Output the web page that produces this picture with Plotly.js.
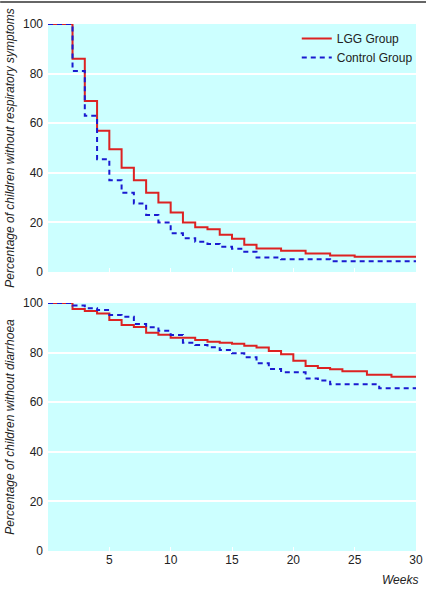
<!DOCTYPE html>
<html>
<head>
<meta charset="utf-8">
<script src="https://cdn.plot.ly/plotly-3.0.1.min.js"></script>
<style>html,body{margin:0;padding:0;background:#fff;}#chart{width:426px;height:592px;}</style>
</head>
<body>
<div id="chart"></div>
<script>
// Respiratory symptoms (top panel)
var respWeeksLGG = [0, 2, 3, 4, 5, 6, 7, 8, 9, 10, 11, 12, 13, 14, 15, 16, 17, 19, 21, 23, 25, 30];
var respLGG      = [100, 86, 69, 57, 49.5, 42, 37, 32, 28, 24, 20, 18, 17.2, 15, 13.4, 11, 9.5, 8.6, 7.5, 6.7, 6.2, 6.2];
var respWeeksCtl = [0, 2, 3, 4, 5, 6, 7, 8, 9, 10, 11, 12, 13, 14, 15, 16, 17, 19, 23, 30];
var respCtl      = [100, 81, 63, 45.5, 37, 32, 27.6, 23, 20, 15.6, 13.6, 12.2, 11.3, 10.2, 9.4, 8.2, 5.8, 5.1, 4.3, 4.3];

// Diarrhoea (bottom panel)
var diarWeeksLGG = [0, 2, 3, 4, 5, 6, 7, 8, 9, 10, 12, 13, 14, 15, 16, 17, 18, 19, 20, 21, 22, 23, 24, 26, 28, 30];
var diarLGG      = [100, 97.6, 96.8, 95.8, 93.1, 91.1, 90.3, 88, 87.2, 86, 85.1, 84.4, 84, 83.6, 82.8, 82.1, 80.6, 79.3, 76.7, 74.6, 73.8, 73.3, 72.5, 71.1, 70.3, 70.3];
var diarWeeksCtl = [0, 2, 3, 4, 5, 6, 7, 8, 9, 10, 11, 12, 13, 14, 15, 16, 17, 18, 19, 21, 22, 23, 27, 30];
var diarCtl      = [100, 99, 97.9, 97.2, 95.2, 94.5, 91.5, 90.2, 88.8, 87.1, 84, 83.1, 82.2, 81, 79.7, 78.1, 75.7, 73.4, 72.1, 69.6, 68.7, 67.2, 65.6, 65.6];

var xTicks = [5, 10, 15, 20, 25, 30];
var yTicks = [0, 20, 40, 60, 80, 100];
var seriesNames = ["LGG Group", "Control Group"];
var yTitles = ["Percentage of children without respiratory symptoms", "Percentage of children without diarrhoea"];
var xTitle = "Weeks";

var FONT = "'Liberation Sans Narrow', 'Arial Narrow', 'Liberation Sans', Arial, sans-serif";
var RED = "#dc2222";
var BLUE = "#1a1ad0";

var traces = [
  {x: respWeeksLGG, y: respLGG, type: "scatter", mode: "lines", line: {shape: "hv", color: RED, width: 2}, name: seriesNames[0], xaxis: "x", yaxis: "y", showlegend: true},
  {x: respWeeksCtl, y: respCtl, type: "scatter", mode: "lines", line: {shape: "hv", color: BLUE, width: 2, dash: "5px,4px"}, name: seriesNames[1], xaxis: "x", yaxis: "y", showlegend: true},
  {x: diarWeeksLGG, y: diarLGG, type: "scatter", mode: "lines", line: {shape: "hv", color: RED, width: 2}, name: seriesNames[0], xaxis: "x2", yaxis: "y2", showlegend: false},
  {x: diarWeeksCtl, y: diarCtl, type: "scatter", mode: "lines", line: {shape: "hv", color: BLUE, width: 2, dash: "5px,4px"}, name: seriesNames[1], xaxis: "x2", yaxis: "y2", showlegend: false}
];

var xCommon = {
  range: [0, 30], tickvals: xTicks, ticks: "inside", ticklen: 4, tickcolor: "#ffffff", tickwidth: 1,
  showgrid: false, zeroline: false, showline: false, fixedrange: true,
  tickfont: {family: FONT, size: 12, color: "#222"}
};
var yCommon = {
  range: [0, 100], tickvals: yTicks, ticks: "", showgrid: true, gridcolor: "#ffffff", gridwidth: 2,
  zeroline: false, showline: false, fixedrange: true, ticklabelstandoff: 4,
  tickfont: {family: FONT, size: 12, color: "#222"}
};

var layout = {
  width: 426, height: 592,
  margin: {l: 48, r: 8, t: 24, b: 41},
  paper_bgcolor: "#ffffff",
  plot_bgcolor: "#ccffff",
  font: {family: FONT, size: 12, color: "#222"},
  showlegend: true,
  legend: {x: 0.676, y: 1.0, xanchor: "left", yanchor: "top", bgcolor: "rgba(0,0,0,0)", font: {family: FONT, size: 12, color: "#222"}, tracegroupgap: 0, itemwidth: 30},
  xaxis: Object.assign({}, xCommon, {anchor: "y", showticklabels: false}),
  yaxis: Object.assign({}, yCommon, {domain: [0.5294, 1], anchor: "x",
    title: {text: yTitles[0], standoff: 5, font: {family: FONT, size: 12, style: "italic", color: "#222"}}}),
  xaxis2: Object.assign({}, xCommon, {anchor: "y2", showticklabels: true}),
  yaxis2: Object.assign({}, yCommon, {domain: [0, 0.4706], anchor: "x2",
    title: {text: yTitles[1], standoff: 5, font: {family: FONT, size: 12, style: "italic", color: "#222"}}}),
  annotations: [
    {text: xTitle, xref: "paper", yref: "paper", x: 1, y: 0, xanchor: "right", yanchor: "top", xshift: 4, yshift: -20, showarrow: false,
     font: {family: FONT, size: 12, style: "italic", color: "#222"}}
  ],
  shapes: [
    {type: "line", xref: "paper", yref: "paper", x0: -0.13, x1: 1.03, y0: 1.0417, y1: 1.0417, line: {color: "#333", width: 1.5}}
  ]
};

Plotly.newPlot("chart", traces, layout, {displayModeBar: false, staticPlot: true});
</script>
</body>
</html>
